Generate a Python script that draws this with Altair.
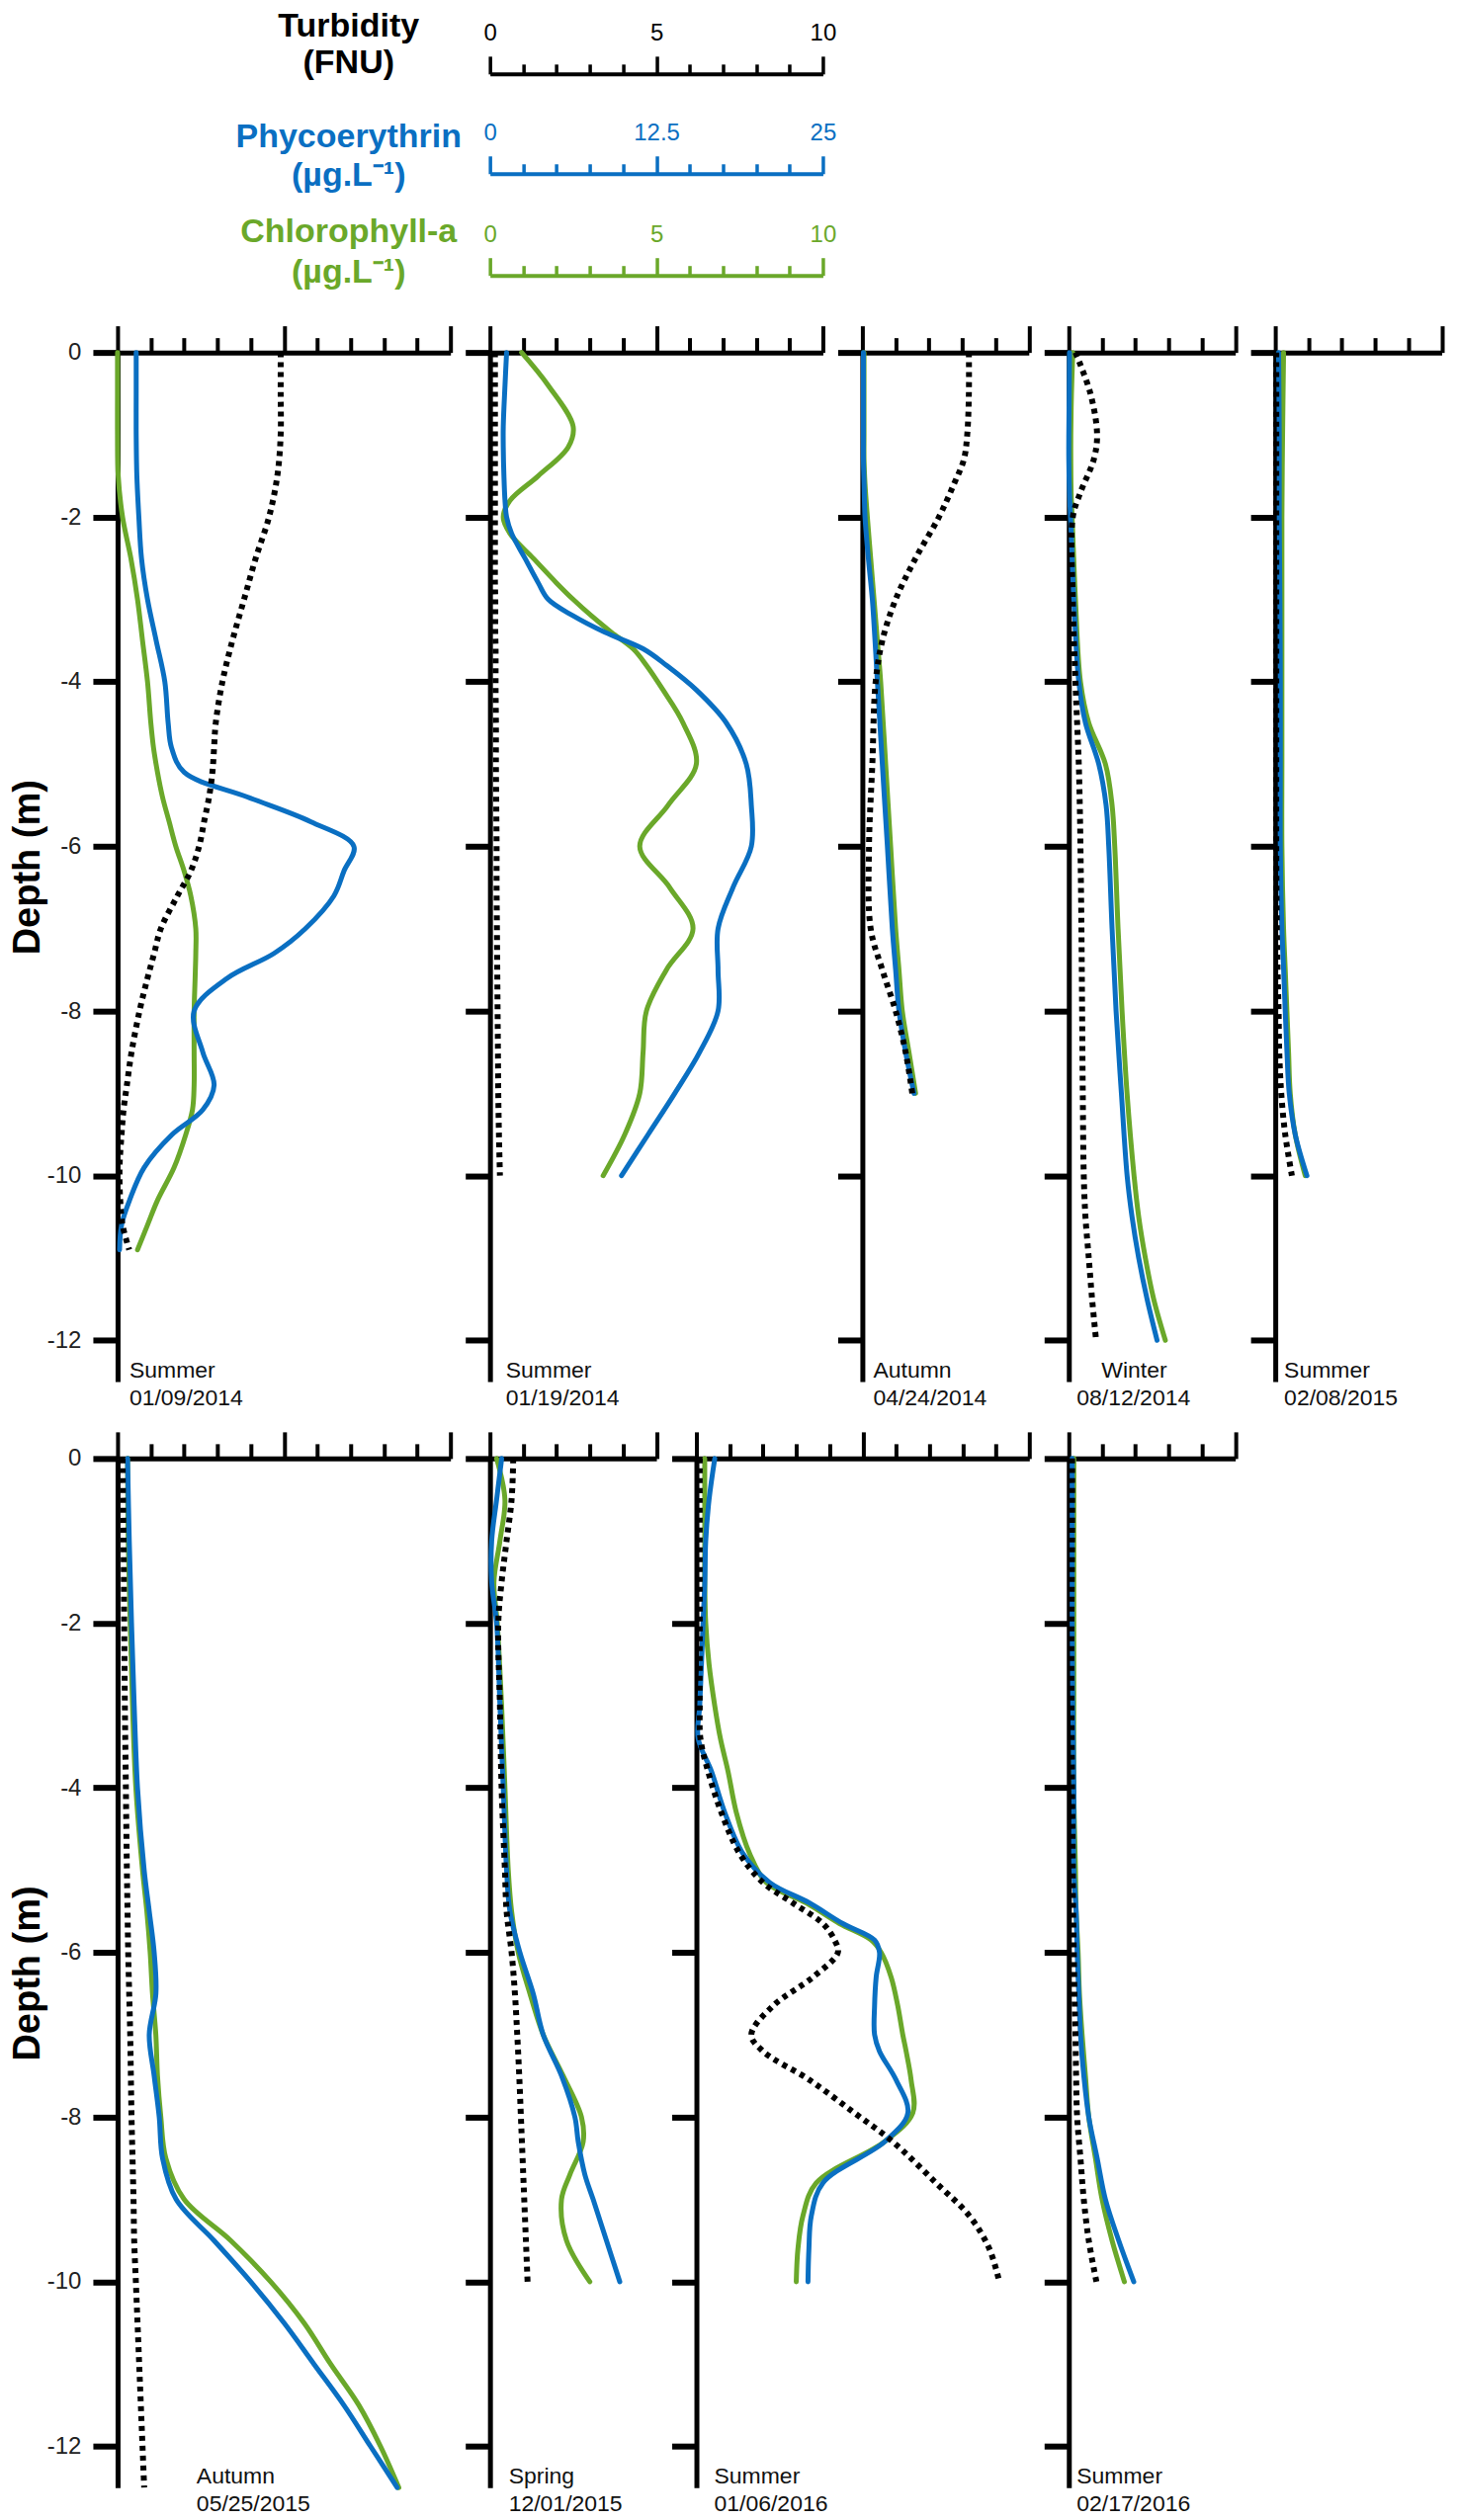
import altair as alt
import pandas as pd

# ---------------- data ----------------
# Turbidity in FNU, phycoerythrin (PE) and chlorophyll-a (CHL) in ug/L, depth in m
T1_DEPTH = [0, -0.5, -1, -1.5, -2, -2.5, -3, -3.5, -4, -4.5, -4.8, -5.1, -5.4, -5.7, -6, -6.3, -6.6, -7, -7.3, -7.6, -8, -8.5, -8.9, -9.2, -9.5, -9.9, -10.3, -10.6, -10.9]
T1_TURB = [4.9, 4.9, 4.9, 4.8, 4.55, 4.15, 3.8, 3.45, 3.15, 2.95, 2.9, 2.85, 2.75, 2.6, 2.45, 2.2, 1.8, 1.3, 1.1, 0.9, 0.66, 0.42, 0.28, 0.18, 0.12, 0.06, 0.08, 0.15, 0.35]
T1_PE = [1.4, 1.4, 1.4, 1.45, 1.6, 1.8, 2.25, 2.9, 3.55, 3.8, 4.05, 5.0, 9.75, 14.5, 17.75, 17.0, 16.25, 14.1, 11.75, 8.25, 5.75, 6.4, 7.25, 6.4, 4.1, 2.0, 0.9, 0.3, 0.15]
T1_CHL = [0, 0, 0, 0.02, 0.15, 0.4, 0.6, 0.75, 0.9, 1.0, 1.08, 1.2, 1.35, 1.55, 1.75, 2.0, 2.2, 2.35, 2.35, 2.33, 2.3, 2.3, 2.3, 2.25, 2.05, 1.7, 1.2, 0.9, 0.6]

T2_DEPTH = [0, -0.4, -0.9, -1.15, -1.5, -1.8, -2, -2.2, -2.5, -2.8, -3.0, -3.2, -3.4, -3.6, -3.8, -4.1, -4.5, -5, -5.5, -6, -6.5, -7, -7.5, -8, -8.5, -9, -9.5, -10]
T2_TURB = [0.15, 0.15, 0.15, 0.15, 0.15, 0.15, 0.15, 0.15, 0.15, 0.15, 0.16, 0.16, 0.16, 0.17, 0.17, 0.17, 0.18, 0.18, 0.19, 0.2, 0.2, 0.21, 0.22, 0.23, 0.24, 0.25, 0.27, 0.3]
T2_PE = [1.25, 1.13, 1.0, 1.0, 1.05, 1.13, 1.25, 1.63, 2.63, 3.63, 4.38, 6.25, 8.63, 11.5, 13.25, 15.5, 17.75, 19.25, 19.63, 19.63, 18.25, 17.13, 17.13, 17.13, 15.75, 13.88, 11.88, 9.88]
T2_CHL = [0.95, 1.75, 2.5, 2.35, 1.45, 0.6, 0.4, 0.6, 1.3, 2.0, 2.5, 3.05, 3.65, 4.3, 4.7, 5.2, 5.8, 6.2, 5.35, 4.5, 5.4, 6.1, 5.3, 4.7, 4.6, 4.5, 4.05, 3.4]

T3_DEPTH = [0, -0.5, -1, -1.3, -1.6, -2, -2.5, -3, -3.5, -4, -5, -6, -7, -7.5, -8, -8.5, -9]
T3_TURB = [3.2, 3.2, 3.15, 3.05, 2.75, 2.3, 1.6, 1.0, 0.6, 0.4, 0.3, 0.2, 0.25, 0.6, 1.0, 1.3, 1.5]
T3_PE = [0.08, 0.08, 0.08, 0.08, 0.13, 0.2, 0.45, 0.75, 0.95, 1.13, 1.5, 1.88, 2.25, 2.5, 2.75, 3.25, 3.88]
T3_CHL = [0.05, 0.05, 0.05, 0.05, 0.08, 0.15, 0.25, 0.35, 0.45, 0.55, 0.7, 0.85, 1.0, 1.1, 1.2, 1.4, 1.6]

T4_DEPTH = [0, -0.5, -1, -1.3, -1.7, -2, -3, -4, -4.5, -5, -5.5, -6, -7, -8, -9, -10, -10.5, -11, -11.5, -12]
T4_TURB = [0.2, 0.65, 0.85, 0.75, 0.35, 0.12, 0.12, 0.2, 0.25, 0.3, 0.33, 0.35, 0.38, 0.4, 0.42, 0.45, 0.5, 0.6, 0.7, 0.82]
T4_PE = [0.05, 0.03, 0.0, 0.0, 0.05, 0.13, 0.38, 0.75, 1.25, 2.25, 2.8, 3.0, 3.25, 3.55, 3.95, 4.38, 4.75, 5.25, 5.88, 6.63]
T4_CHL = [0.12, 0.08, 0.06, 0.06, 0.07, 0.1, 0.2, 0.35, 0.6, 1.1, 1.3, 1.38, 1.48, 1.6, 1.75, 1.96, 2.1, 2.3, 2.55, 2.9]

T5_DEPTH = [0, -1, -2, -3, -4, -5, -6, -7, -7.5, -8, -8.5, -9, -9.5, -10]
T5_TURB = [0.03, 0.03, 0.03, 0.03, 0.03, 0.03, 0.03, 0.05, 0.07, 0.1, 0.12, 0.18, 0.3, 0.5]
T5_PE = [0.25, 0.3, 0.3, 0.35, 0.38, 0.38, 0.38, 0.5, 0.63, 0.75, 0.88, 1.05, 1.5, 2.38]
T5_CHL = [0.25, 0.22, 0.2, 0.2, 0.2, 0.2, 0.2, 0.25, 0.3, 0.35, 0.4, 0.45, 0.6, 0.9]

B1_DEPTH = [0, -1, -2, -3, -4, -5, -5.5, -6, -6.5, -7, -7.5, -8, -8.5, -9, -9.5, -10, -10.5, -11, -11.5, -12, -12.5]
B1_TURB = [0.15, 0.18, 0.2, 0.22, 0.25, 0.28, 0.3, 0.32, 0.35, 0.38, 0.4, 0.42, 0.45, 0.48, 0.5, 0.55, 0.6, 0.65, 0.7, 0.75, 0.8]
B1_PE = [0.75, 0.88, 1.05, 1.25, 1.5, 2.0, 2.38, 2.75, 2.88, 2.38, 2.75, 3.13, 3.38, 4.4, 7.25, 10.0, 12.5, 14.75, 17.0, 19.0, 21.0]
B1_CHL = [0.3, 0.32, 0.38, 0.45, 0.55, 0.75, 0.88, 0.98, 1.05, 1.15, 1.2, 1.3, 1.45, 2.0, 3.4, 4.6, 5.6, 6.4, 7.25, 7.9, 8.45]

B2_DEPTH = [0, -0.5, -1, -1.5, -2, -3, -4, -5, -5.5, -6, -6.5, -7, -7.5, -8, -8.3, -8.7, -9, -9.5, -10]
B2_TURB = [0.7, 0.65, 0.5, 0.35, 0.25, 0.3, 0.35, 0.45, 0.5, 0.65, 0.75, 0.82, 0.88, 0.93, 0.96, 1.0, 1.03, 1.08, 1.13]
B2_PE = [0.88, 0.5, 0.13, 0.13, 0.5, 0.75, 1.0, 1.25, 1.5, 2.25, 3.25, 4.0, 5.38, 6.38, 6.63, 7.13, 7.75, 8.75, 9.75]
B2_CHL = [0.2, 0.45, 0.3, 0.12, 0.22, 0.35, 0.45, 0.55, 0.65, 0.85, 1.2, 1.6, 2.2, 2.75, 2.8, 2.4, 2.15, 2.3, 3.0]

B3_DEPTH = [0, -0.5, -1, -1.5, -2, -2.5, -3, -3.4, -3.8, -4.3, -4.8, -5.15, -5.4, -5.65, -5.85, -6, -6.3, -6.65, -7, -7.2, -7.55, -7.95, -8.3, -8.8, -9.2, -9.6, -10]
B3_TURB = [0.1, 0.1, 0.1, 0.1, 0.1, 0.1, 0.1, 0.12, 0.35, 0.75, 1.3, 2.0, 2.9, 3.8, 4.15, 4.25, 3.5, 2.3, 1.65, 2.0, 3.4, 4.75, 5.9, 7.2, 8.2, 8.8, 9.1]
B3_PE = [1.38, 0.95, 0.7, 0.63, 0.5, 0.38, 0.25, 0.13, 1.13, 2.13, 3.5, 5.5, 8.5, 11.0, 13.38, 13.75, 13.5, 13.38, 13.38, 13.75, 15.0, 15.88, 14.13, 9.5, 8.63, 8.45, 8.38]
B3_CHL = [0.25, 0.25, 0.25, 0.25, 0.28, 0.38, 0.55, 0.72, 0.95, 1.2, 1.6, 2.1, 3.3, 4.3, 5.25, 5.55, 5.85, 6.05, 6.2, 6.3, 6.45, 6.5, 5.65, 3.6, 3.2, 3.05, 3.0]

B4_DEPTH = [0, -1, -2, -3, -4, -5, -5.5, -6, -6.5, -7, -7.5, -8, -8.5, -9, -9.5, -10]
B4_TURB = [0.1, 0.1, 0.08, 0.08, 0.1, 0.12, 0.13, 0.15, 0.17, 0.2, 0.22, 0.25, 0.35, 0.45, 0.6, 0.83]
B4_PE = [0.25, 0.25, 0.25, 0.3, 0.38, 0.38, 0.55, 0.63, 0.75, 0.88, 1.13, 1.5, 2.13, 2.75, 3.75, 4.88]
B4_CHL = [0.15, 0.15, 0.15, 0.15, 0.15, 0.2, 0.22, 0.28, 0.32, 0.4, 0.5, 0.6, 0.8, 1.0, 1.3, 1.67]

TOP_SEASONS = ["Summer", "Summer", "Autumn", "Winter", "Summer"]
TOP_DATES = ["01/09/2014", "01/19/2014", "04/24/2014", "08/12/2014", "02/08/2015"]
TOP_TURB_MAX = [10, 10, 5, 5, 5]          # turbidity axis maximum (FNU) of each panel
BOT_SEASONS = ["Autumn", "Spring", "Summer", "Summer"]
BOT_DATES = ["05/25/2015", "12/01/2015", "01/06/2016", "02/17/2016"]
BOT_TURB_MAX = [10, 5, 10, 5]

Y_TICKS = [0, -2, -4, -6, -8, -10, -12]
LEGEND_TITLES = [["Turbidity", "(FNU)"], ["Phycoerythrin", "(\u00b5g.L\u207b\u00b9)"], ["Chlorophyll-a", "(\u00b5g.L\u207b\u00b9)"]]
LEGEND_MAX = [10, 25, 10]
LEGEND_STEP = [1, 2.5, 1]
LEGEND_MAJOR = [5, 12.5, 5]
PE_PER_FNU = 2.5   # PE scale spans 2.5x the turbidity scale (0-25 vs 0-10)

# ---------------- style / layout ----------------
BLUE = "#0A6FC2"
GREEN = "#6AA82A"
BLACK = "#000000"
FONT = "Liberation Sans"
NARROW = "Liberation Sans Narrow, Arial Narrow, Liberation Sans, sans-serif"
UNIT_PX = 33.7
PLOT_H = 1042
LEG_COLORS = [BLACK, BLUE, GREEN]
LEG_OFFSETS = [282, 181, 78]          # legend axes above panel 2 (px above plot top)
TITLE_X = 234
TITLE_DY = [[-330, -293], [-218, -179], [-122, -81]]
TOP_SEASON_DX = [12, 16, 11, 33, 9]
TOP_DATE_DX = [12, 16, 11, 8, 9]
BOT_SEASON_DX = [80, 19, 18, 8]
BOT_DATE_DX = [80, 19, 18, 8]
LABEL_FS = 23
SEASON_DY = -4
DATE_DY = 24


def y_enc(first):
    ax = dict(values=Y_TICKS, tickSize=25, tickWidth=6, tickColor=BLACK,
              domainColor=BLACK, domainWidth=5, grid=False, labels=first)
    if first:
        ax.update(labelFontSize=24, labelColor="#222222", labelPadding=12,
                  labelExpr="'' + datum.value", labelFont=FONT,
                  title="Depth (m)", titleFontSize=38, titleFontWeight="bold",
                  titleColor=BLACK, titlePadding=0, titleFont=FONT)
    else:
        ax["title"] = None
    return alt.Y("depth:Q", scale=alt.Scale(domain=[-12.5, 0], nice=False, zero=False),
                 axis=alt.Axis(**ax))


def x_top_axis(span):
    return alt.Axis(orient="top", values=list(range(span + 1)), labels=False, title=None,
                    grid=False, domainColor=BLACK, domainWidth=5, tickColor=BLACK, tickWidth=4,
                    tickSize={"condition": {"test": "datum.value % 5 === 0", "value": 27}, "value": 15})


def legend_layer(vmax, step, major, color, offset, y):
    vals = [round(i * step, 3) for i in range(int(round(vmax / step)) + 1)]
    df = pd.DataFrame({"v": [0, vmax], "depth": [0, 0]})
    ax = alt.Axis(orient="top", offset=offset, values=vals, title=None, grid=False,
                  labelExpr=f"datum.value % {major} === 0 ? '' + datum.value : ''",
                  labelColor=color, labelFontSize=24, labelFont=FONT, labelPadding=11,
                  labelFlush=False, labelOverlap=False,
                  domainColor=color, domainWidth=4, tickColor=color, tickWidth=3.5,
                  tickSize={"condition": {"test": f"datum.value % {major} === 0", "value": 18}, "value": 10})
    return alt.Chart(df).mark_point(opacity=0).encode(
        x=alt.X("v:Q", scale=alt.Scale(domain=[0, vmax], nice=False), axis=ax), y=y)


def legend_titles(y):
    out = []
    for lines, color, dys in zip(LEGEND_TITLES, LEG_COLORS, TITLE_DY):
        for line, dy in zip(lines, dys):
            out.append(
                alt.Chart(pd.DataFrame({"t": [line], "depth": [0]})).mark_text(
                    font=FONT, fontSize=34, fontWeight="bold", color=color,
                    align="center", baseline="middle", dy=dy).encode(
                    text="t:N", x=alt.value(TITLE_X), y=y))
    return out


def panel(depth, turb, pe, chl, span, season, date, sdx, ddx, first, extra=None):
    df = pd.DataFrame({"depth": depth, "turb": turb, "pe": pe, "chl": chl})
    y = y_enc(first)
    order = alt.Order("depth:Q", sort="descending")
    base = alt.Chart(df)
    g = base.mark_line(color=GREEN, strokeWidth=5, interpolate="catmull-rom", strokeCap="round").encode(
        x=alt.X("chl:Q", scale=alt.Scale(domain=[0, span], nice=False), axis=None), y=y, order=order)
    b = base.mark_line(color=BLUE, strokeWidth=5, interpolate="catmull-rom", strokeCap="round").encode(
        x=alt.X("pe:Q", scale=alt.Scale(domain=[0, span * PE_PER_FNU], nice=False), axis=None), y=y, order=order)
    k = base.mark_line(color=BLACK, strokeWidth=6, strokeDash=[5, 5], interpolate="catmull-rom").encode(
        x=alt.X("turb:Q", scale=alt.Scale(domain=[0, span], nice=False), axis=x_top_axis(span)), y=y, order=order)
    labels = pd.DataFrame({"depth": [-12.5], "t": [season], "d": [date]})
    s = alt.Chart(labels).mark_text(
        font=NARROW, fontSize=LABEL_FS, align="left", baseline="alphabetic", color="#111111",
        dx=sdx, dy=SEASON_DY).encode(text="t:N", x=alt.value(0), y=y)
    d = alt.Chart(labels).mark_text(
        font=NARROW, fontSize=LABEL_FS, align="left", baseline="alphabetic", color="#111111",
        dx=ddx, dy=DATE_DY).encode(text="d:N", x=alt.value(0), y=y)
    layers = [g, b, k, s, d]
    if extra == "titles":
        layers += legend_titles(y)
    elif extra == "axes":
        layers += [legend_layer(m, st, j, c, o, y) for m, st, j, c, o in
                   zip(LEGEND_MAX, LEGEND_STEP, LEGEND_MAJOR, LEG_COLORS, LEG_OFFSETS)]
    return alt.layer(*layers).resolve_scale(x="independent").properties(
        width=span * UNIT_PX, height=PLOT_H)


top_data = [(T1_DEPTH, T1_TURB, T1_PE, T1_CHL), (T2_DEPTH, T2_TURB, T2_PE, T2_CHL),
            (T3_DEPTH, T3_TURB, T3_PE, T3_CHL), (T4_DEPTH, T4_TURB, T4_PE, T4_CHL),
            (T5_DEPTH, T5_TURB, T5_PE, T5_CHL)]
bot_data = [(B1_DEPTH, B1_TURB, B1_PE, B1_CHL), (B2_DEPTH, B2_TURB, B2_PE, B2_CHL),
            (B3_DEPTH, B3_TURB, B3_PE, B3_CHL), (B4_DEPTH, B4_TURB, B4_PE, B4_CHL)]
top_extra = ["titles", "axes", None, None, None]

top_panels = [panel(*dat, span, se, da, sdx, ddx, i == 0, ex) for i, (dat, span, se, da, sdx, ddx, ex) in
              enumerate(zip(top_data, TOP_TURB_MAX, TOP_SEASONS, TOP_DATES, TOP_SEASON_DX, TOP_DATE_DX, top_extra))]
bot_panels = [panel(*dat, span, se, da, sdx, ddx, i == 0) for i, (dat, span, se, da, sdx, ddx) in
              enumerate(zip(bot_data, BOT_TURB_MAX, BOT_SEASONS, BOT_DATES, BOT_SEASON_DX, BOT_DATE_DX))]

top_row = alt.hconcat(*top_panels, spacing=40, bounds="flush")
bot_row = alt.hconcat(*bot_panels, spacing=40, bounds="flush")

chart = alt.vconcat(
    top_row, bot_row, spacing=18,
    padding={"left": 0, "top": 0, "right": 5, "bottom": 0},
).configure(font=FONT).configure_view(stroke="transparent")

chart.save("out.html", embed_options={"renderer": "svg", "actions": False})
